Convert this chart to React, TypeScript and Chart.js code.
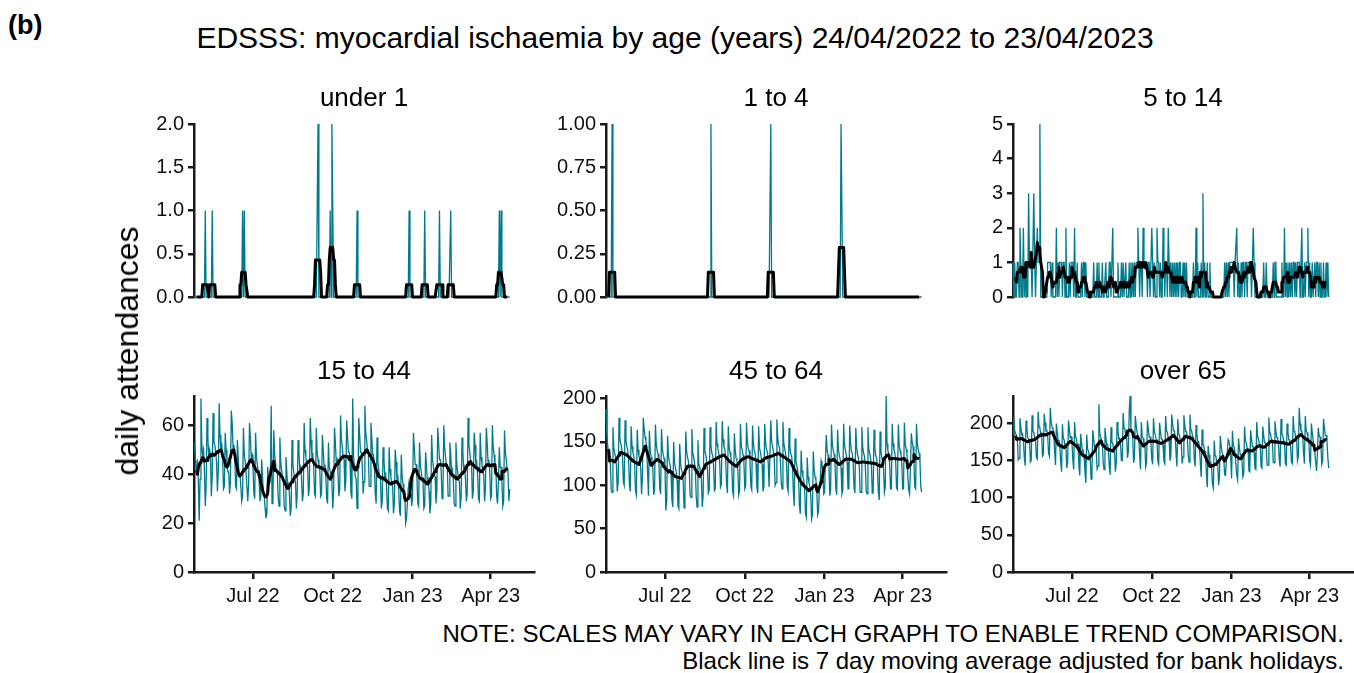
import React, { useEffect, useRef } from 'react';
import { Chart, registerables } from 'chart.js';

Chart.register(...registerables);

// ---------- DATA ----------
// Day 0 = Sun 24/04/2022, day 364 = Sun 23/04/2023
const DAY_COUNT = 365;
const tickDays = [68, 160, 252, 342];
const tickLabels = ['Jul 22', 'Oct 22', 'Jan 23', 'Apr 23'];

const panelTitles = ['under 1', '1 to 4', '5 to 14', '15 to 44', '45 to 64', 'over 65'];
const yMaxes = [2, 1, 5, 72, 203, 237];
const ySteps = [0.5, 0.25, 1, 20, 50, 50];
const yDecimals = [1, 2, 0, 0, 0, 0];

// sparse daily counts (all other days are 0)
const under1Days = [13, 21, 56, 58, 142, 143, 157, 159, 160, 188, 248, 266, 283, 296, 352, 354];
const under1Counts = [1, 1, 1, 1, 1, 2, 1, 2, 1, 1, 1, 1, 1, 1, 1, 1];
const oneToFourDays = [7, 121, 190, 271, 272];
const oneToFourCounts = [1, 1, 1, 1, 1];

const fiveToFourteen = [
  1, 0, 1, 0, 0, 1, 1,
  0, 2, 1, 0, 0, 2, 0,
  1, 0, 1, 0, 3, 1, 1,
  1, 0, 0, 3, 1, 0, 1,
  2, 1, 1, 5, 0, 0, 0,
  0, 0, 0, 0, 0, 1, 1,
  1, 1, 0, 1, 0, 0, 0,
  0, 2, 0, 1, 0, 1, 1,
  1, 0, 1, 1, 0, 2, 0,
  0, 0, 1, 0, 1, 1, 1,
  0, 2, 0, 0, 1, 0, 0,
  0, 0, 1, 0, 1, 1, 0,
  1, 0, 0, 0, 0, 0, 0,
  0, 0, 1, 0, 0, 0, 1,
  0, 1, 0, 0, 0, 1, 0,
  0, 0, 1, 0, 0, 0, 1,
  1, 0, 0, 2, 0, 0, 0,
  0, 0, 1, 0, 0, 0, 1,
  0, 1, 0, 0, 1, 0, 0,
  0, 1, 0, 1, 0, 1, 0,
  1, 0, 1, 1, 2, 1, 0,
  1, 1, 0, 2, 1, 1, 1,
  1, 0, 1, 1, 0, 0, 2,
  1, 0, 1, 0, 0, 2, 1,
  1, 0, 1, 0, 0, 2, 1,
  0, 1, 1, 0, 2, 1, 0,
  1, 0, 1, 0, 1, 0, 1,
  0, 1, 0, 1, 1, 0, 0,
  1, 0, 1, 0, 1, 0, 0,
  0, 0, 0, 0, 0, 1, 0,
  0, 2, 0, 1, 0, 0, 0,
  1, 0, 3, 0, 1, 0, 0,
  1, 0, 0, 1, 0, 0, 0,
  0, 0, 0, 0, 0, 0, 0,
  0, 0, 0, 0, 0, 0, 1,
  0, 1, 0, 1, 0, 1, 1,
  1, 1, 1, 0, 1, 1, 2,
  0, 1, 0, 0, 1, 0, 1,
  1, 0, 1, 1, 0, 1, 1,
  1, 1, 0, 1, 2, 1, 0,
  0, 0, 0, 0, 0, 0, 0,
  0, 0, 1, 0, 0, 1, 0,
  0, 0, 0, 0, 0, 0, 1,
  0, 1, 1, 0, 0, 0, 0,
  0, 0, 1, 0, 0, 2, 0,
  1, 0, 1, 0, 1, 0, 1,
  0, 1, 1, 0, 1, 0, 1,
  1, 1, 0, 1, 2, 0, 0,
  1, 0, 1, 1, 2, 0, 1,
  0, 0, 1, 0, 0, 1, 0,
  1, 1, 0, 1, 0, 1, 0,
  0, 1, 0, 0, 1, 0, 1,
  0,
];

const fifteenToFortyFour = [
  50, 53, 44, 41, 46, 37, 21,
  38, 71, 52, 48, 50, 42, 27,
  35, 63, 55, 47, 50, 48, 31,
  39, 65, 53, 52, 49, 45, 33,
  41, 69, 56, 50, 53, 47, 34,
  35, 57, 50, 45, 41, 41, 32,
  37, 66, 61, 51, 52, 48, 35,
  34, 54, 47, 39, 40, 35, 29,
  31, 59, 48, 45, 41, 41, 29,
  36, 61, 55, 47, 48, 43, 32,
  30, 57, 47, 44, 41, 39, 29,
  31, 46, 39, 32, 31, 26, 22,
  24, 43, 37, 36, 37, 68, 28,
  29, 58, 48, 45, 41, 41, 31,
  27, 55, 45, 42, 39, 38, 27,
  25, 47, 41, 35, 36, 32, 23,
  26, 54, 44, 41, 38, 37, 26,
  32, 54, 49, 42, 43, 38, 29,
  32, 61, 50, 47, 44, 43, 31,
  35, 63, 54, 47, 48, 43, 32,
  31, 59, 49, 46, 43, 42, 31,
  32, 56, 50, 43, 44, 39, 30,
  28, 53, 43, 41, 38, 37, 26,
  33, 59, 53, 45, 46, 41, 31,
  34, 64, 54, 51, 47, 46, 33,
  37, 62, 56, 49, 49, 44, 32,
  30, 71, 47, 43, 39, 38, 26,
  36, 63, 56, 49, 49, 44, 32,
  37, 68, 57, 54, 50, 49, 35,
  35, 61, 55, 48, 48, 43, 32,
  28, 55, 45, 42, 39, 38, 26,
  29, 51, 46, 39, 40, 35, 26,
  25, 51, 42, 39, 36, 35, 24,
  28, 50, 45, 38, 39, 34, 25,
  23, 48, 39, 36, 33, 32, 20,
  22, 28, 34, 37, 37, 32, 27,
  31, 57, 51, 44, 44, 39, 28,
  27, 53, 44, 41, 38, 37, 26,
  27, 49, 44, 37, 38, 33, 24,
  28, 56, 46, 43, 40, 39, 28,
  33, 59, 53, 46, 46, 41, 30,
  32, 60, 51, 47, 44, 43, 31,
  31, 53, 48, 41, 42, 37, 28,
  27, 53, 44, 41, 38, 37, 26,
  31, 55, 49, 42, 43, 38, 29,
  32, 63, 52, 49, 45, 44, 30,
  33, 57, 52, 44, 45, 40, 30,
  29, 57, 47, 44, 41, 40, 29,
  34, 59, 53, 45, 46, 41, 30,
  31, 60, 51, 48, 44, 43, 31,
  28, 37, 51, 43, 43, 37, 27,
  29, 58, 49, 46, 42, 41, 29,
  34,
];

const fortyFiveToSixtyFour = [
  188, 160, 145, 138, 140, 126, 95,
  92, 167, 144, 137, 133, 123, 93,
  103, 178, 155, 148, 144, 134, 104,
  100, 175, 152, 145, 141, 131, 101,
  93, 168, 145, 138, 134, 124, 94,
  89, 164, 141, 134, 130, 120, 90,
  110, 178, 165, 156, 151, 143, 112,
  88, 163, 140, 133, 129, 119, 89,
  95, 170, 147, 140, 136, 126, 96,
  90, 165, 142, 135, 131, 121, 71,
  82, 157, 134, 127, 123, 113, 83,
  75, 150, 127, 120, 116, 106, 76,
  73, 148, 125, 118, 114, 104, 74,
  87, 162, 139, 132, 128, 118, 88,
  86, 165, 137, 133, 127, 119, 87,
  75, 152, 125, 121, 115, 107, 75,
  88, 166, 140, 135, 129, 119, 91,
  94, 167, 146, 137, 135, 123, 94,
  96, 173, 148, 143, 137, 129, 98,
  101, 174, 153, 144, 142, 130, 101,
  91, 168, 143, 138, 132, 124, 93,
  88, 160, 140, 131, 129, 117, 89,
  94, 171, 146, 141, 135, 127, 96,
  99, 172, 151, 142, 140, 128, 99,
  95, 169, 148, 139, 137, 125, 97,
  91, 168, 143, 138, 132, 124, 93,
  98, 171, 150, 141, 139, 127, 98,
  98, 175, 150, 145, 139, 131, 100,
  103, 176, 155, 146, 144, 132, 103,
  96, 173, 148, 143, 137, 129, 98,
  93, 166, 145, 136, 134, 122, 93,
  76, 154, 128, 123, 117, 109, 77,
  67, 140, 117, 110, 106, 96, 67,
  63, 132, 110, 103, 99, 89, 61,
  66, 139, 117, 110, 106, 96, 66,
  70, 95, 105, 128, 124, 115, 90,
  92, 130, 158, 140, 135, 125, 88,
  95, 170, 147, 140, 136, 126, 96,
  89, 164, 141, 134, 130, 120, 90,
  94, 171, 146, 141, 135, 127, 96,
  96, 169, 148, 139, 137, 125, 97,
  91, 166, 143, 136, 132, 122, 92,
  92, 167, 144, 137, 133, 123, 93,
  90, 167, 142, 137, 131, 123, 91,
  91, 164, 143, 134, 132, 120, 92,
  83, 162, 139, 132, 128, 118, 92,
  98, 203, 148, 140, 136, 126, 96,
  96, 171, 148, 141, 137, 127, 97,
  95, 170, 147, 140, 136, 126, 96,
  96, 172, 148, 142, 137, 110, 95,
  90, 118, 160, 150, 145, 128, 98,
  96, 171, 148, 141, 137, 127, 97,
  92,
];

const overSixtyFive = [
  186, 209, 190, 187, 183, 179, 151,
  153, 207, 196, 185, 186, 178, 155,
  143, 204, 193, 181, 179, 178, 148,
  150, 211, 189, 188, 180, 176, 154,
  152, 216, 196, 194, 186, 187, 156,
  158, 213, 201, 190, 191, 183, 160,
  156, 221, 202, 195, 193, 188, 162,
  144, 200, 188, 177, 178, 170, 148,
  135, 199, 180, 178, 169, 170, 140,
  148, 204, 192, 181, 182, 174, 151,
  138, 202, 182, 180, 171, 172, 142,
  130, 186, 174, 163, 164, 155, 134,
  120, 185, 165, 163, 155, 154, 125,
  135, 191, 179, 168, 169, 161, 139,
  143, 226, 187, 183, 177, 174, 147,
  138, 194, 182, 171, 172, 164, 142,
  131, 195, 175, 173, 165, 165, 135,
  146, 202, 190, 179, 180, 172, 150,
  150, 214, 194, 192, 184, 184, 154,
  162, 216, 237, 192, 192, 184, 147,
  154, 210, 198, 188, 188, 180, 158,
  138, 202, 182, 180, 172, 172, 142,
  148, 204, 192, 182, 182, 174, 152,
  145, 207, 189, 185, 179, 177, 149,
  145, 201, 189, 179, 179, 171, 149,
  146, 210, 190, 188, 180, 180, 150,
  156, 212, 200, 190, 190, 182, 160,
  142, 206, 186, 184, 176, 176, 146,
  155, 211, 199, 189, 189, 181, 157,
  148, 212, 192, 190, 182, 182, 152,
  142, 198, 186, 176, 176, 168, 146,
  128, 192, 172, 170, 162, 162, 132,
  114, 170, 158, 148, 148, 140, 118,
  113, 177, 157, 155, 147, 147, 117,
  127, 183, 171, 161, 161, 153, 131,
  130, 150, 160, 178, 175, 170, 155,
  126, 190, 170, 168, 160, 160, 130,
  124, 180, 168, 158, 158, 150, 128,
  132, 196, 176, 174, 166, 166, 136,
  135, 191, 179, 169, 169, 161, 139,
  138, 202, 182, 180, 172, 172, 142,
  140, 196, 184, 174, 174, 166, 144,
  144, 208, 188, 186, 178, 178, 148,
  147, 203, 191, 181, 181, 173, 151,
  142, 206, 186, 184, 176, 176, 146,
  144, 200, 188, 178, 178, 170, 148,
  146, 210, 190, 188, 180, 180, 150,
  156, 221, 200, 190, 190, 182, 160,
  146, 210, 190, 188, 180, 180, 150,
  144, 200, 188, 178, 178, 160, 148,
  136, 160, 194, 183, 182, 170, 145,
  150, 206, 194, 184, 184, 176, 154,
  140,
];

// ---------- HELPERS ----------
function fromEvents(days: number[], counts: number[]): number[] {
  const arr: number[] = new Array(DAY_COUNT).fill(0);
  days.forEach((d, i) => { arr[d] = counts[i]; });
  return arr;
}

function movingAverage(vals: number[]): (number | null)[] {
  return vals.map((_, i) => {
    if (i < 3 || i > vals.length - 4) return null;
    let s = 0;
    for (let k = -3; k <= 3; k++) s += vals[i + k];
    return s / 7;
  });
}

const seriesList: number[][] = [
  fromEvents(under1Days, under1Counts),
  fromEvents(oneToFourDays, oneToFourCounts),
  fiveToFourteen,
  fifteenToFortyFour,
  fortyFiveToSixtyFour,
  overSixtyFive,
];

// ---------- LAYOUT / STYLE ----------
const FONT = '"Liberation Sans", Arial, Helvetica, sans-serif';
const TEAL = '#007B8C';
const AXIS = '#1a1a1a';
const COL_LEFT = [194, 606, 1013];
const PLOT_W = 340;
const ROW_TOP = [122, 394];
const PLOT_H = [177, 178];
const Y_W = 70;
const PAD_T = 14;
const X_H = 45;
const X_MAX = 392;
const TICK_SIZE = 20;

function canvasBox(idx: number) {
  const col = idx % 3;
  const row = Math.floor(idx / 3);
  const left = COL_LEFT[col] - Y_W;
  const top = ROW_TOP[row] - PAD_T;
  const width = Y_W + PLOT_W + 4;
  const height = PAD_T + PLOT_H[row] + (row === 0 ? 14 : X_H + 2);
  return { left, top, width, height, row, col };
}

function Panel({ idx }: { idx: number }) {
  const ref = useRef<HTMLCanvasElement | null>(null);
  const box = canvasBox(idx);
  useEffect(() => {
    const canvas = ref.current;
    if (!canvas) return;
    const vals = seriesList[idx];
    const ma = movingAverage(vals);
    const bottomRow = box.row === 1;
    const chart = new Chart(canvas, {
      type: 'line',
      data: {
        datasets: [
          {
            data: ma.map((v, i) => ({ x: i, y: v })),
            borderColor: '#000000',
            borderWidth: 3,
            pointRadius: 0,
            tension: 0,
            clip: false,
            borderJoinStyle: 'round',
          },
          {
            data: vals.map((v, i) => ({ x: i, y: v })),
            borderColor: TEAL,
            borderWidth: 1.3,
            pointRadius: 0,
            tension: 0,
            clip: false,
          },
        ],
      },
      options: {
        animation: false,
        responsive: false,
        devicePixelRatio: 1,
        events: [],
        layout: { padding: { top: PAD_T, bottom: bottomRow ? 2 : 14, left: 0, right: 4 } },
        plugins: { legend: { display: false }, tooltip: { enabled: false }, title: { display: false } },
        scales: {
          x: {
            type: 'linear',
            min: 0,
            max: X_MAX,
            display: bottomRow,
            afterBuildTicks: (scale: any) => {
              scale.ticks = tickDays.map((v) => ({ value: v }));
            },
            afterFit: (scale: any) => { if (bottomRow) scale.height = X_H; },
            ticks: {
              autoSkip: false,
              maxRotation: 0,
              padding: 5,
              color: '#111',
              font: { family: FONT, size: TICK_SIZE },
              callback: (value: any) => {
                const k = tickDays.indexOf(Number(value));
                return k >= 0 ? tickLabels[k] : '';
              },
            },
            grid: { display: true, drawOnChartArea: false, drawTicks: true, tickLength: 7, color: AXIS, lineWidth: 2.5 },
            border: { display: true, color: AXIS, width: 2.5 },
          },
          y: {
            type: 'linear',
            min: 0,
            max: yMaxes[idx],
            afterFit: (scale: any) => { scale.width = Y_W; },
            ticks: {
              stepSize: ySteps[idx],
              includeBounds: false,
              padding: 4,
              color: '#111',
              font: { family: FONT, size: TICK_SIZE },
              callback: (value: any) => Number(value).toFixed(yDecimals[idx]),
            },
            grid: { display: true, drawOnChartArea: false, drawTicks: true, tickLength: 6, color: AXIS, lineWidth: 2.5 },
            border: { display: true, color: AXIS, width: 2.5 },
          },
        },
      } as any,
    });
    return () => chart.destroy();
  }, [idx]);
  return (
    <canvas
      ref={ref}
      width={box.width}
      height={box.height}
      style={{ position: 'absolute', left: box.left, top: box.top, width: box.width, height: box.height }}
    />
  );
}

const textBase: React.CSSProperties = {
  position: 'absolute',
  fontFamily: FONT,
  color: '#000',
  whiteSpace: 'nowrap',
  lineHeight: 1,
};

export default function App() {
  const titleY = [97, 370];
  return (
    <div style={{ position: 'absolute', left: 0, top: 0, width: 1354, height: 673, overflow: 'hidden', background: '#fff' }}>
      {panelTitles.map((_, i) => <Panel key={i} idx={i} />)}
      <div style={{ ...textBase, left: 8, top: 12, fontSize: 27, fontWeight: 'bold' }}>(b)</div>
      <div style={{ ...textBase, left: 675, top: 38, fontSize: 30, transform: 'translate(-50%, -50%)' }}>
        EDSSS: myocardial ischaemia by age (years) 24/04/2022 to 23/04/2023
      </div>
      {panelTitles.map((t, i) => {
        const col = i % 3;
        const row = Math.floor(i / 3);
        return (
          <div key={'t' + i} style={{ ...textBase, left: COL_LEFT[col] + PLOT_W / 2, top: titleY[row], fontSize: 26, transform: 'translate(-50%, -50%)' }}>
            {t}
          </div>
        );
      })}
      <div style={{ ...textBase, left: 127, top: 351, fontSize: 32, transform: 'translate(-50%, -50%) rotate(-90deg)' }}>
        daily attendances
      </div>
      <div style={{ ...textBase, right: 10, top: 634, fontSize: 24, transform: 'translateY(-50%)' }}>
        NOTE: SCALES MAY VARY IN EACH GRAPH TO ENABLE TREND COMPARISON.
      </div>
      <div style={{ ...textBase, right: 10, top: 661, fontSize: 24, transform: 'translateY(-50%)' }}>
        Black line is 7 day moving average adjusted for bank holidays.
      </div>
    </div>
  );
}
